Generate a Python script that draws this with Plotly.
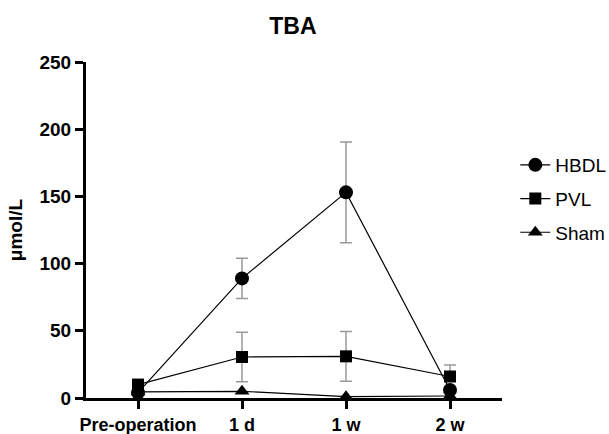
import plotly.graph_objects as go

categories = ["Pre-operation", "1 d", "1 w", "2 w"]
hbdl = [4, 89, 153, 6]
hbdl_err_up = [0, 15, 37.5, 0]
hbdl_err_down = [0, 15, 37.5, 0]
pvl = [10, 30.5, 31, 16]
pvl_err_up = [0, 18.5, 18.5, 8.5]
pvl_err_down = [0, 18.5, 18.5, 0]
sham = [4.5, 5, 1, 1.5]
sham_err_up = [0, 0, 0, 0]
sham_err_down = [0, 0, 0, 0]

series = [
    ("HBDL", hbdl, hbdl_err_up, hbdl_err_down, "circle", 14),
    ("PVL", pvl, pvl_err_up, pvl_err_down, "square", 12),
    ("Sham", sham, sham_err_up, sham_err_down, "triangle-up", 13),
]

fig = go.Figure()
for name, vals, up, down, sym, sz in series:
    fig.add_trace(go.Scatter(
        x=list(range(len(categories))), y=vals, name=name,
        mode="lines+markers", legendgroup=name,
        line=dict(color="black", width=1.2),
        marker=dict(symbol=sym, size=sz, color="black"),
        error_y=dict(type="data", array=up, arrayminus=down, symmetric=False,
                     visible=any(v > 0 for v in up),
                     color="#9a9a9a", thickness=1.5, width=6),
        cliponaxis=False,
    ))

fam = "Liberation Sans, Arial"
axfont = dict(family=fam, size=19, color="black")
fig.update_layout(
    width=609, height=434,
    margin=dict(l=86, r=107, t=62, b=36, autoexpand=False),
    plot_bgcolor="white", paper_bgcolor="white",
    title=dict(text="<b>TBA</b>", x=0.481, xanchor="center", y=0.94, yanchor="middle",
               font=dict(family=fam, size=23, color="black")),
    legend=dict(x=1.032, y=0.75, xanchor="left", yanchor="top",
                font=dict(family=fam, size=19, color="black"),
                tracegroupgap=6, bgcolor="rgba(0,0,0,0)"),
    showlegend=True,
)
fig.update_xaxes(
    range=[-0.5, 3.5], tickmode="array", tickvals=list(range(len(categories))),
    ticktext=["<b>%s</b>" % c for c in categories],
    showline=True, linecolor="black", linewidth=3, ticks="outside", ticklen=8,
    tickwidth=3, tickcolor="black", showgrid=False, zeroline=False,
    tickfont=dict(family=fam, size=18, color="black"), layer="below traces", automargin=False,
)
fig.update_yaxes(
    range=[0, 250], tickvals=[0, 50, 100, 150, 200, 250],
    ticktext=["<b>%d</b>" % v for v in [0, 50, 100, 150, 200, 250]],
    showline=True, linecolor="black", linewidth=3, ticks="outside", ticklen=8,
    tickwidth=3, tickcolor="black", showgrid=False, zeroline=False,
    tickfont=axfont, layer="below traces", automargin=False,
    title=dict(text="<b>μmol/L</b>", font=dict(family=fam, size=19, color="black"),
               standoff=12),
)
fig.write_html("out.html", config={"displayModeBar": False},
               post_script="document.body.style.margin='0';document.body.style.padding='0';")
